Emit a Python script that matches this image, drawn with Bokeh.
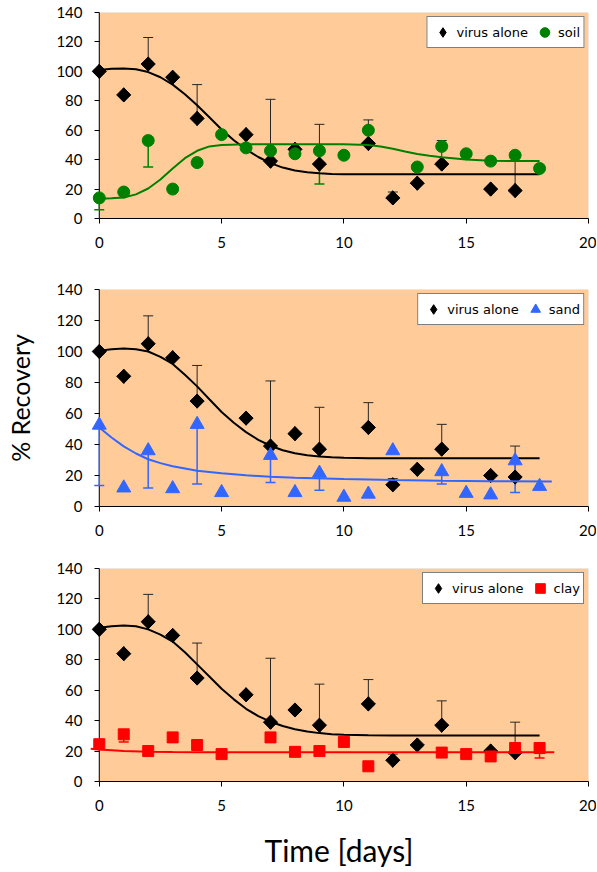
import numpy as np
from bokeh.plotting import figure
from bokeh.models import (ColumnDataSource, Range1d, FixedTicker, BoxAnnotation,
                          Whisker, TeeHead, Legend, LegendItem, Span)
from bokeh.layouts import column
from bokeh.embed import file_html
from bokeh.resources import INLINE

# ---------------- data ----------------
x_ticks = [0, 5, 10, 15, 20]
y_ticks = [0, 20, 40, 60, 80, 100, 120, 140]

virus_days = [0, 1, 2, 3, 4, 6, 7, 8, 9, 11, 12, 13, 14, 16, 17]
virus_pct = [100, 84, 105, 96, 68, 57, 39, 47, 37, 51, 14, 24, 37, 20, 19]
virus_err_plus = [0, 0, 18, 0, 23, 0, 42, 0, 27, 16, 4, 0, 16, 0, 20]

soil_days = [0, 1, 2, 3, 4, 5, 6, 7, 8, 9, 10, 11, 13, 14, 15, 16, 17, 18]
soil_pct = [14, 18, 53, 20, 38, 57, 48, 46, 44, 46, 43, 60, 35, 49, 44, 39, 43, 34]
soil_err_minus = [8, 0, 18, 0, 0, 0, 0, 0, 0, 22.5, 0, 0, 0, 0, 0, 0, 0, 0]

sand_days = [0, 1, 2, 3, 4, 5, 7, 8, 9, 10, 11, 12, 14, 15, 16, 17, 18]
sand_pct = [52.5, 12, 36, 11.5, 53, 9, 33, 9, 21.5, 6, 8, 36, 22.5, 8.5, 7.5, 29.5, 13]
sand_err_minus = [39, 0, 24, 0, 38.5, 0, 17.5, 0, 11, 0, 0, 0, 8, 0, 0, 20.5, 0]

clay_days = [0, 1, 2, 3, 4, 5, 7, 8, 9, 10, 11, 14, 15, 16, 17, 18]
clay_pct = [24.5, 31, 20, 29, 24, 18, 29, 19.5, 20, 26, 10, 19, 18, 16.5, 22, 22]
clay_err_minus = [0, 5, 0, 0, 0, 0, 0, 0, 0, 0, 0, 0, 0, 0, 0, 6.5]

# fitted curves
virus_fit_x = [0, 0.5, 1, 1.5, 2, 2.5, 3, 3.5, 4, 4.5, 5, 5.5, 6, 6.5, 7, 7.5, 8,
               8.5, 9, 9.5, 10, 11, 12, 13, 14, 15, 16, 17, 18]
virus_fit_soil = [101, 101.7, 102, 101.4, 99.5, 96, 91, 84.5, 77, 68.8, 60.5, 53.2, 47,
                  41.8, 37.6, 34.6, 32.6, 31.4, 30.7, 30.3, 30.1, 30, 30, 30, 30, 30, 30, 30, 30]
virus_fit_sand = [100.5, 101.5, 102, 101.5, 100, 96.5, 92, 85, 77.5, 69.2, 61, 54, 48,
                  43, 39.2, 36.3, 34.3, 33, 32.2, 31.7, 31.4, 31.2, 31.1, 31.1, 31.1, 31.1,
                  31.1, 31.1, 31.1]
virus_fit_clay = [101, 102, 102.6, 102, 100, 96.5, 92, 85, 77, 69, 61, 54, 47.8, 43,
                  39.3, 36.5, 34.4, 32.9, 31.8, 31.1, 30.7, 30.4, 30.3, 30.3, 30.3, 30.3,
                  30.3, 30.3, 30.3]

soil_fit_x = [0, 0.5, 1, 1.5, 2, 2.5, 3, 3.5, 4, 4.5, 5, 6, 7, 8, 9, 10, 11, 11.5, 12,
              12.5, 13, 13.5, 14, 15, 16, 17, 18]
soil_fit_y = [13.5, 13.7, 14.3, 16.4, 20.4, 26.5, 34, 41, 46, 49, 50, 50.5, 50.5, 50.5,
              50.5, 50.5, 50, 49, 47.4, 45.5, 43.8, 42.6, 41.6, 40.1, 39.3, 39, 39]

sand_fit_x = [0, 0.5, 1, 1.5, 2, 2.5, 3, 4, 5, 6, 7, 8, 10, 12, 14, 16, 18.5]
sand_fit_y = [51, 44.5, 38.8, 34.2, 30.5, 28, 26, 23, 21.4, 20.1, 19.2, 18.6, 17.7, 17.1,
              16.6, 16.3, 16.1]

clay_fit_x = [-0.35, 0, 1, 2, 3, 4, 6, 8, 10, 12, 14, 16, 18.6]
clay_fit_y = [21.6, 21.1, 20.1, 19.6, 19.4, 19.3, 19.3, 19.3, 19.3, 19.3, 19.3, 19.3, 19.3]

# ---------------- style ----------------
PEACH = "#FFCC99"
BLACK = "#000000"
GREEN = "#008000"
BLUE = "#3366FF"
RED = "#FF0000"
TICK_FONT = "Lato"
LEG_FONT = "DejaVu Sans"


def base_panel(frame_h, border_top, border_bottom):
    p = figure(frame_width=499, frame_height=frame_h,
               x_range=Range1d(-0.4, 20), y_range=Range1d(0, 140),
               output_backend="svg", toolbar_location=None,
               min_border_left=89, min_border_right=8,
               min_border_top=border_top, min_border_bottom=border_bottom,
               background_fill_color="white", border_fill_color="white",
               outline_line_color=None)
    p.xgrid.visible = False
    p.ygrid.visible = False
    p.add_layout(BoxAnnotation(left=0, right=20, bottom=0, top=140,
                               fill_color=PEACH, fill_alpha=1.0,
                               line_color="#9a9a9a", line_width=1,
                               level="underlay"))
    # y axis line drawn at day 0
    p.add_layout(Span(location=0, dimension="height", line_color=BLACK,
                      line_width=1, level="underlay"))
    for ax in (p.xaxis[0], p.yaxis[0]):
        ax.major_tick_line_color = BLACK
        ax.minor_tick_line_color = None
        ax.major_label_text_font = TICK_FONT
        ax.major_label_text_font_size = "15px"
        ax.major_label_text_color = BLACK
    p.xaxis.axis_line_color = BLACK
    p.xaxis.major_tick_out = 5
    p.xaxis.major_tick_in = 0
    p.xaxis.ticker = FixedTicker(ticks=x_ticks)
    p.xaxis.bounds = (0, 20)
    p.xaxis.major_label_standoff = 13
    # left axis sits at the frame edge (day -0.4); its ticks are shifted to day 0
    p.yaxis.axis_line_color = None
    p.yaxis.ticker = FixedTicker(ticks=y_ticks)
    p.yaxis.major_tick_in = 10
    p.yaxis.major_tick_out = -5
    p.yaxis.major_label_standoff = 7
    return p


def add_errors(p, xs, ys, errs, up, color, width, level="underlay"):
    bx, lo, hi = [], [], []
    for x, y, e in zip(xs, ys, errs):
        if e > 0:
            bx.append(x)
            if up:
                lo.append(y)
                hi.append(y + e)
            else:
                lo.append(y - e)
                hi.append(y)
    src = ColumnDataSource(dict(x=bx, lower=lo, upper=hi))
    head = TeeHead(size=10, line_color=color, line_width=width)
    w = Whisker(source=src, base="x", lower="lower", upper="upper",
                dimension="height", line_color=color, line_width=width,
                upper_head=head if up else None,
                lower_head=None if up else head, level=level)
    p.add_layout(w)


def add_virus(p, fit_y):
    add_errors(p, virus_days, virus_pct, virus_err_plus, True, "#262626", 1)
    p.line(virus_fit_x, fit_y, line_color=BLACK, line_width=2)
    # upright diamond used as the legend swatch; hidden below the data markers
    r_leg = p.scatter(virus_days, virus_pct, marker="diamond", size=14,
                      fill_color=BLACK, line_color=BLACK)
    p.scatter(virus_days, virus_pct, marker="square", angle=np.pi / 4,
              size=10, fill_color=BLACK, line_color=BLACK)
    return r_leg


def add_legend(p, items):
    leg = Legend(items=[LegendItem(label=l, renderers=[r]) for l, r in items],
                 orientation="horizontal", location="top_right", margin=4,
                 padding=3, spacing=4, label_standoff=2,
                 glyph_width=24, glyph_height=24,
                 label_text_font=LEG_FONT, label_text_font_size="13px",
                 label_text_color=BLACK,
                 border_line_color=BLACK, border_line_width=1,
                 background_fill_color="white", background_fill_alpha=1.0)
    p.add_layout(leg)


# ---- panel 1: soil ----
p1 = base_panel(206, 12, 46)
r_v1 = add_virus(p1, virus_fit_soil)
add_errors(p1, soil_days, soil_pct, soil_err_minus, False, GREEN, 1.5)
p1.line(soil_fit_x, soil_fit_y, line_color=GREEN, line_width=2)
r_soil = p1.scatter(soil_days, soil_pct, marker="circle", size=12,
                    fill_color=GREEN, line_color=GREEN)
add_legend(p1, [("virus alone", r_v1), ("soil", r_soil)])

# ---- panel 2: sand ----
p2 = base_panel(217, 25, 40)
r_v2 = add_virus(p2, virus_fit_sand)
add_errors(p2, sand_days, sand_pct, sand_err_minus, False, BLUE, 1.5)
p2.line(sand_fit_x, sand_fit_y, line_color=BLUE, line_width=2)
r_sand = p2.scatter(sand_days, sand_pct, marker="triangle", size=14,
                    fill_color=BLUE, line_color=BLUE)
add_legend(p2, [("virus alone", r_v2), ("sand", r_sand)])
p2.yaxis.axis_label = "% Recovery"
p2.yaxis.axis_label_text_font = TICK_FONT
p2.yaxis.axis_label_text_font_size = "25px"
p2.yaxis.axis_label_text_font_style = "normal"
p2.yaxis.axis_label_text_color = BLACK
p2.yaxis.axis_label_standoff = 18

# ---- panel 3: clay ----
p3 = base_panel(213, 22, 91)
r_v3 = add_virus(p3, virus_fit_clay)
add_errors(p3, clay_days, clay_pct, clay_err_minus, False, RED, 1.5)
p3.line(clay_fit_x, clay_fit_y, line_color=RED, line_width=2)
r_clay = p3.scatter(clay_days, clay_pct, marker="square", size=11,
                    fill_color=RED, line_color=RED)
add_legend(p3, [("virus alone", r_v3), ("clay", r_clay)])
p3.xaxis.axis_label = "Time [days]"
p3.xaxis.axis_label_text_font = TICK_FONT
p3.xaxis.axis_label_text_font_size = "30px"
p3.xaxis.axis_label_text_font_style = "normal"
p3.xaxis.axis_label_text_color = BLACK
p3.xaxis.axis_label_standoff = 18

layout = column(p1, p2, p3)
open("out.html", "w").write(file_html(layout, INLINE))
